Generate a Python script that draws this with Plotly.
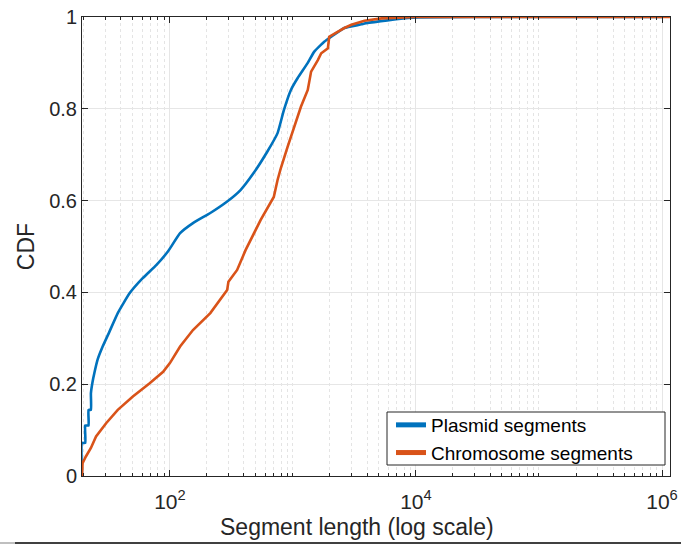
import plotly.graph_objects as go

# Plasmid segments CDF
plasmid_len = [19.3, 19.3, 20.5, 20.5, 21.8, 21.8, 22.8, 22.8, 23.5, 24.3, 25.8, 28.4, 32.2, 37.7, 47, 60.1,
               77.8, 96.3, 121, 154, 213, 292, 375, 479, 620, 750, 844, 963, 1093, 1320, 1486,
               1795, 2048, 2616, 3609, 3817, 7210, 10500, 30000, 1.0e6]
plasmid_cdf = [0.0, 0.072, 0.072, 0.11, 0.11, 0.144, 0.144, 0.18, 0.205, 0.224, 0.253, 0.282, 0.314, 0.355,
               0.398, 0.431, 0.46, 0.489, 0.529, 0.551, 0.573, 0.598, 0.623, 0.66, 0.707, 0.747, 0.797,
               0.841, 0.867, 0.9, 0.924, 0.946, 0.957, 0.976, 0.984, 0.986, 0.996, 0.999, 1.0, 1.0]

# Chromosome segments CDF
chrom_len = [19.3, 19.3, 19.5, 20.7, 22.8, 25.1, 30.3, 37.7, 50, 68.5, 88.1, 100, 121, 154, 213, 292, 299,
             352, 412, 547, 699, 750, 798, 905, 1019, 1163, 1320, 1405, 1594, 1698, 1925, 1972, 2616,
             2985, 3817, 5260, 9820, 1.16e6]
chrom_cdf = [0.0, 0.006, 0.028, 0.042, 0.061, 0.086, 0.115, 0.144, 0.173, 0.202, 0.227, 0.246, 0.282, 0.318,
             0.355, 0.405, 0.423, 0.449, 0.492, 0.558, 0.608, 0.645, 0.671, 0.717, 0.758, 0.805, 0.841,
             0.881, 0.906, 0.921, 0.932, 0.957, 0.976, 0.983, 0.992, 0.997, 1.0, 1.0]

series_names = ["Plasmid segments", "Chromosome segments"]
x_major = [1e2, 1e4, 1e6]
x_major_text = ["10<sup>2</sup>", "10<sup>4</sup>", "10<sup>6</sup>"]
y_ticks = [0, 0.2, 0.4, 0.6, 0.8, 1]
y_tick_text = ["0", "0.2", "0.4", "0.6", "0.8", "1"]
x_title = "Segment length (log scale)"
y_title = "CDF"

minor_vals = [m * 10 ** k for k in range(1, 7) for m in range(1, 10)
              if m * 10 ** k not in x_major and 19 < m * 10 ** k < 1.2e6]

font_family = "Liberation Sans, Arial, Helvetica, sans-serif"
PW, PH = 588.0, 459.0  # plot area size in px


def px_x(p):
    return (p - 82) / PW


def px_y(p):
    return (476 - p) / PH


fig = go.Figure()
fig.add_trace(go.Scatter(x=plasmid_len, y=plasmid_cdf, mode="lines", name=series_names[0],
                         line=dict(color="#0072BD", width=2.6, shape="spline", smoothing=0.4)))
fig.add_trace(go.Scatter(x=chrom_len, y=chrom_cdf, mode="lines", name=series_names[1],
                         line=dict(color="#D95319", width=2.6)))

fig.update_layout(
    width=681, height=546,
    margin=dict(l=82, r=11, t=17, b=70, autoexpand=False),
    paper_bgcolor="white", plot_bgcolor="white",
    font=dict(family=font_family, color="#262626", size=19),
    showlegend=True,
    legend=dict(x=px_x(391), y=px_y(406), xanchor="left", yanchor="top",
                bgcolor="rgba(0,0,0,0)", borderwidth=0,
                font=dict(size=19, color="#000000"), tracegroupgap=0, itemwidth=30,
                itemsizing="constant"),
    shapes=[
        # legend frame
        dict(type="rect", xref="paper", yref="paper", x0=px_x(387), x1=px_x(665),
             y0=px_y(465), y1=px_y(412), layer="above",
             fillcolor="white", line=dict(color="#262626", width=1)),
        # bottom rule of the page
        dict(type="line", xref="paper", yref="paper", x0=px_x(15), x1=px_x(681),
             y0=px_y(543), y1=px_y(543), line=dict(color="#000000", width=1.5)),
        dict(type="line", xref="paper", yref="paper", x0=px_x(0), x1=px_x(15),
             y0=px_y(543), y1=px_y(543), line=dict(color="#AAAAAA", width=1.5)),
    ],
    annotations=[
        dict(text=x_title, xref="paper", yref="paper", x=px_x(357), y=px_y(527),
             xanchor="center", yanchor="middle", showarrow=False,
             font=dict(size=23, color="#262626")),
    ],
)

fig.update_xaxes(
    type="log", range=[1.2855, 6.065], automargin=False,
    tickmode="array", tickvals=x_major, ticktext=x_major_text,
    ticks="inside", ticklen=6, tickcolor="#262626", tickwidth=1,
    ticklabelstandoff=7,
    showline=True, linecolor="#262626", linewidth=1, mirror="ticks",
    showgrid=True, gridcolor="#E6E6E6", gridwidth=1,
    tickfont=dict(size=21, color="#262626"),
    minor=dict(tickmode="array", tickvals=minor_vals, ticks="inside", ticklen=3,
               tickcolor="#262626", showgrid=True, gridcolor="#E4E4E4", griddash="dot", gridwidth=1),
    zeroline=False,
)
fig.update_yaxes(
    range=[0, 1], automargin=False, tickmode="array", tickvals=y_ticks, ticktext=y_tick_text,
    ticks="inside", ticklen=6, tickcolor="#262626",
    showline=True, linecolor="#262626", linewidth=1, mirror="ticks",
    showgrid=True, gridcolor="#E6E6E6", gridwidth=1,
    tickfont=dict(size=20, color="#262626"),
    title=dict(text=y_title, font=dict(size=23, color="#262626"), standoff=8),
    zeroline=False,
)

fig.write_html("out.html", config={"displayModeBar": False},
               post_script="document.body.style.margin='0';")
